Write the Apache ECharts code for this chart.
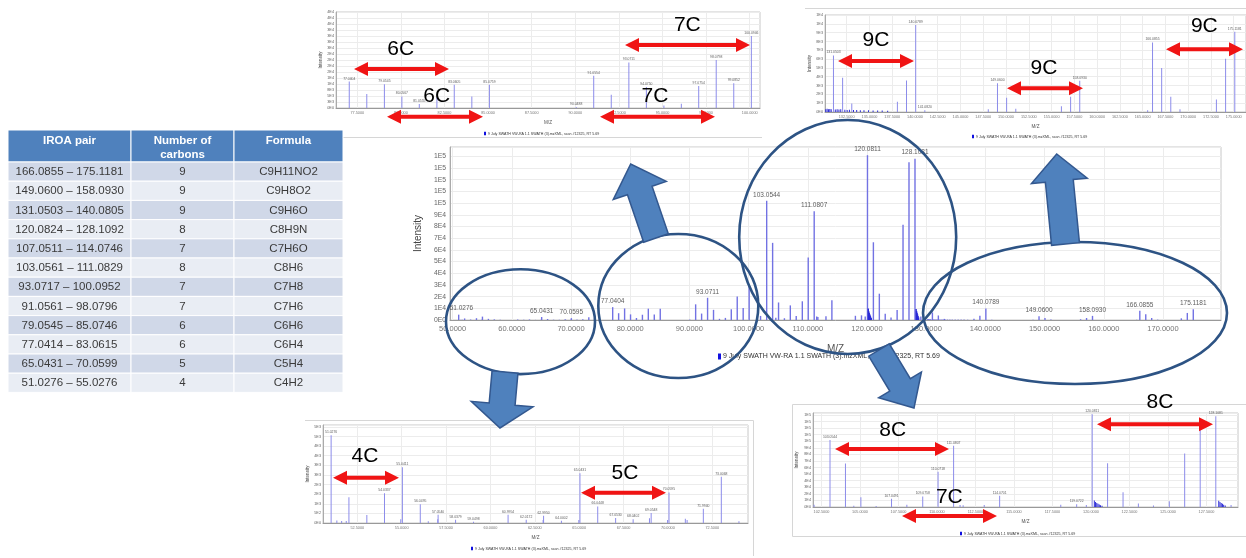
<!DOCTYPE html>
<html><head><meta charset="utf-8">
<script src="https://cdn.jsdelivr.net/npm/echarts@6/dist/echarts.min.js"></script>
<style>html,body{margin:0;padding:0;background:#fff}#c{width:1246px;height:558px}</style>
</head><body><div id="c"></div>
<script>
// ---------------- DATA ----------------
const seriesName = '9 July SWATH VW-RA 1.1 SWATH (3).mzXML, scan #12325, RT 5.69';
// peaks: [m/z, intensity]
const peaks = [
[51.0276,4570],[51.35,130],[51.62,110],[51.88,100],[52.0300,1345],[53.0390,410],[54.0337,1550],[54.9500,200],[55.0411,2900],[56.0495,980],[56.5,90],[57.0340,200],[57.0540,430],[58.0379,170],[59.0498,60],[60.9954,430],[62.0172,170],[62.9700,150],[62.9950,380],[64.0002,120],[64.9800,150],[65.0431,2590],[66.0448,860],[67.0530,260],[68.0402,200],[68.9600,250],[69.0548,520],[69.9800,150],[70.0595,1590],[70.98,220],[71.08,150],[71.9940,740],[73.0068,2410],[74.0,90],
[77.0404,11000],[78.0447,5800],[79.0545,9900],[80.0567,4800],[81.0555,1700],[82.0650,4500],[83.0605,9700],[84.0680,4800],[85.0759,9700],[90.0488,400],[91.0554,13400],[92.0620,5500],[93.0711,19000],[94.0750,8700],[95.0800,1000],[96.0800,1800],[97.0754,9200],[98.0798,20000],[99.0852,10300],[100.0946,30000],
[102.0200,3500],[103.0544,102000],[104.0578,66000],[104.6,2000],[105.0590,15000],[106.0500,1500],[107.0491,12500],[108.0450,3500],[109.0758,16000],[110.0718,53500],[111.0807,93000],[111.5,3000],[111.7,2500],[113.0700,3200],[114.0701,17000],[118.0400,3600],[119.0722,4000],[119.7,3000],[120.0811,141000],[121.0800,66500],[122.0850,22500],[123.0800,5300],[124.0600,2200],[125.0900,8600],[126.0870,81500],[127.0950,135000],[128.1081,138000],[129.1,3000],
[131.0503,6420],[132.0540,3880],[133.0600,960],[138.0700,1150],[139.0700,3580],[140.0789,9880],[141.0820,190],[148.0500,300],[149.0600,3270],[150.0630,1620],[151.0700,380],[156.0800,650],[157.0900,1730],[158.0930,3540],[165.5500,200],[166.0855,7880],[167.0890,5000],[168.0900,1730],[169.1000,300],[173.1000,1420],[174.1100,6040],[175.1181,9100]
];
// dense low-level clusters (drawn darker)
const densePeaks = [
[120.22,9800],[120.3,7500],[120.38,6200],[120.46,5000],[120.54,3800],[120.62,2800],[120.72,1800],
[128.3,9500],[128.38,7600],[128.46,6200],[128.54,4800],[128.62,3500],[128.72,2200],
[130.2,320],[130.35,360],[130.5,300],[130.65,340],[130.8,300],[131.25,280],[131.45,320],[131.65,270],[131.85,300],[132.3,260],[132.55,240],[132.8,250],[133.25,220],[133.6,230],[134.0,210],[134.4,200],[134.9,190],[135.4,180],[135.9,170],[136.4,160],[137.0,150]
];
// labelled peaks per panel (m/z)
const mainLabels = [51.0276,65.0431,70.0595,77.0404,93.0711,103.0544,111.0807,120.0811,128.1081,140.0789,149.0600,158.0930,166.0855,175.1181];
const tlLabels = [77.0404,79.0545,80.0567,81.0555,83.0605,85.0759,90.0488,91.0554,93.0711,94.0750,97.0754,98.0798,99.0852,100.0946];
const trLabels = [131.0503,140.0789,141.0820,149.0600,158.0930,166.0855,175.1181];
const blLabels = [51.0276,54.0337,55.0411,56.0495,57.0540,58.0379,59.0498,60.9954,62.0172,62.9950,64.0002,65.0431,66.0448,67.0530,68.0402,69.0548,70.0595,71.9940,73.0068];
const brLabels = [103.0544,107.0491,109.0758,110.0718,111.0807,114.0701,119.0722,120.0811,128.1081];
// x tick labels
const mainXTicks = [50,60,70,80,90,100,110,120,130,140,150,160,170];
const tlXTicks = [77.5,80,82.5,85,87.5,90,92.5,95,97.5,100];
const trXTicks = [132.5,135,137.5,140,142.5,145,147.5,150,152.5,155,157.5,160,162.5,165,167.5,170,172.5,175];
const blXTicks = [52.5,55,57.5,60,62.5,65,67.5,70,72.5];
const brXTicks = [102.5,105,107.5,110,112.5,115,117.5,120,122.5,125,127.5];
// table
const tableHeader = ['IROA pair','Number of\ncarbons','Formula'];
const iroaPairs = ['166.0855 – 175.1181','149.0600 – 158.0930','131.0503 – 140.0805','120.0824 – 128.1092','107.0511 – 114.0746','103.0561 – 111.0829','93.0717 – 100.0952','91.0561 – 98.0796','79.0545 – 85.0746','77.0414 – 83.0615','65.0431 – 70.0599','51.0276 – 55.0276'];
const carbonCounts = [9,9,9,8,7,8,7,7,6,6,5,4];
const formulas = ['C9H11NO2','C9H8O2','C9H6O','C8H9N','C7H6O','C8H6','C7H8','C7H6','C6H6','C6H4','C5H4','C4H2'];
// carbon-count annotation texts
const carbonTags = ['6C','6C','7C','7C','9C','9C','9C','4C','5C','8C','7C','8C'];

// ---------------- LAYOUT ----------------
const FONT = 'Liberation Sans';
const panels = [
 {left:450,top:147,width:771,height:173,xMin:49.56,xMax:179.8,xTicks:mainXTicks,yMax:148000,yStep:10000,showMaxY:false,labels:mainLabels,
  tickFs:7.5,yFs:6.8,peakFs:6.5,nameFs:10,xGap:24,yGap:21,xMargin:5,yMargin:4,bw:1.4,color:'#7272e3',lblDist:2,
  lg:{left:718,top:353,iw:3,ih:6,fs:7}},
 {left:336,top:12,width:424,height:96,xMin:76.28,xMax:100.59,xTicks:tlXTicks,yMax:40000,yStep:2500,showMaxY:true,labels:tlLabels,
  tickFs:3.8,yFs:3.8,peakFs:3.4,nameFs:4.6,xGap:12,yGap:13,xMargin:2.5,yMargin:2,bw:1,color:'#8c8cea',lblDist:1,
  lg:{left:484,top:131.5,iw:2,ih:3.5,fs:3.6}},
 {left:825,top:15,width:435,height:97,xMin:130.12,xMax:176.35,xTicks:trXTicks,yMax:11000,yStep:1000,showMaxY:true,labels:trLabels,
  tickFs:3.8,yFs:3.8,peakFs:3.4,nameFs:4.6,xGap:12,yGap:12,xMargin:2.5,yMargin:2,bw:1,color:'#8c8cea',lblDist:1,
  lg:{left:972,top:134.5,iw:2,ih:3.5,fs:3.6}},
 {left:323,top:425,width:425,height:98,xMin:50.57,xMax:74.51,xTicks:blXTicks,yMax:5100,yStep:500,showMaxY:false,labels:blLabels,
  tickFs:3.8,yFs:3.8,peakFs:3.4,nameFs:4.6,xGap:12,yGap:13,xMargin:2.5,yMargin:2,bw:1,color:'#8c8cea',lblDist:1,
  lg:{left:471,top:546.5,iw:2,ih:3.5,fs:3.6}},
 {left:813,top:413,width:425,height:94,xMin:101.95,xMax:129.55,xTicks:brXTicks,yMax:143000,yStep:10000,showMaxY:false,labels:brLabels,
  tickFs:3.8,yFs:3.8,peakFs:3.4,nameFs:4.6,xGap:12,yGap:14,xMargin:2.5,yMargin:2,bw:1,color:'#8c8cea',lblDist:1,
  lg:{left:960,top:531.5,iw:2,ih:3.5,fs:3.6}}
];
const tableCols = [{x:8,w:123},{x:131,w:103},{x:234,w:109}];
const tableTop = 130, headerH = 32, rowH = 19.2;
const ellipses = [[520.5,321.7,74.5,52.4],[678.3,306,80,72],[847.7,237,108.5,117],[1075,313,152,71]];
const blockArrows = [[656,238,630.7,164,13,28,28],[1065.5,244,1056.7,154,14,28,27],[505,372,500,428,13,31,24],[879,350,914,408,12,25,27]];
const redArrowLayout = [
 [354,449,69,400.7,49],[387,483,116.7,436.7,96.7],[625,750,45,687.3,25],[600,715,116.7,655,96.7],
 [838,914,61,876,40],[1007,1083,88.3,1044,68.3],[1166,1243,49.3,1204.3,26.7],
 [333,399,477.7,365,456.7],[581,666,492.7,625,473.3],
 [835,949,449,892.7,430],[902,997,516,949.3,497.7],[1097,1213,424.3,1160,402]
];

// ---------------- BUILD ----------------
function eFmt(v){
  if (v === 0) return '0E0';
  let e = Math.floor(Math.log10(v) + 1e-9);
  let m = Math.round(v / Math.pow(10, e));
  if (m >= 10) { m = 1; e++; }
  return m + 'E' + e;
}
const intensityOf = mz => { const p = peaks.find(d => Math.abs(d[0] - mz) < 1e-6); return p ? p[1] : 0; };

const grids = [], xAxes = [], yAxes = [], series = [], legends = [];
panels.forEach((p, i) => {
  grids.push({left:p.left, top:p.top, width:p.width, height:p.height, show:true, borderColor:'#c8c8c8', borderWidth:1, containLabel:false});
  xAxes.push({gridIndex:i, type:'value', min:p.xMin, max:p.xMax,
    axisLabel:{customValues:p.xTicks, formatter:v => v.toFixed(4), fontSize:p.tickFs, color:'#777', margin:p.xMargin, fontFamily:FONT},
    axisTick:{show:false, customValues:p.xTicks},
    axisLine:{show:true, lineStyle:{color:'#999'}},
    splitLine:{show:true, lineStyle:{color:'#ececec'}},
    name:'M/Z', nameLocation:'middle', nameGap:p.xGap, nameTextStyle:{fontSize:p.nameFs, color:'#555', fontFamily:FONT}});
  yAxes.push({gridIndex:i, type:'value', min:0, max:p.yMax, interval:p.yStep,
    axisLabel:{formatter:eFmt, fontSize:p.yFs, color:'#666', margin:p.yMargin, showMaxLabel:p.showMaxY, fontFamily:FONT},
    axisTick:{show:false}, axisLine:{show:true, lineStyle:{color:'#aaa'}},
    splitLine:{show:true, lineStyle:{color:'#ececec'}},
    name:'Intensity', nameLocation:'middle', nameGap:p.yGap, nameTextStyle:{fontSize:p.nameFs, color:'#444', fontFamily:FONT}});
  series.push({type:'bar', name:seriesName, xAxisIndex:i, yAxisIndex:i, barWidth:p.bw, silent:true, clip:true,
    itemStyle:{color:p.color},
    data:[...peaks.map(d => ({value:d})), ...densePeaks.map(d => ({value:d, itemStyle:{color:'#2a2ad6'}}))]});
  series.push({type:'scatter', name:'labels'+i, xAxisIndex:i, yAxisIndex:i, symbolSize:1, silent:true, z:5,
    itemStyle:{color:'transparent'},
    data:p.labels.map((mz, k) => {
      const item = {value:[mz, intensityOf(mz)]};
      if (i === 0 && k === 0) item.label = {align:'left', offset:[-9, 0]};
      return item;
    }),
    label:{show:true, position:'top', distance:p.lblDist, fontSize:p.peakFs, color:'#333', fontFamily:FONT,
      formatter:q => q.value[0].toFixed(4)}});
  legends.push({data:[seriesName], left:p.lg.left, top:p.lg.top, itemWidth:p.lg.iw, itemHeight:p.lg.ih, itemGap:0, padding:0,
    icon:'rect', selectedMode:false, itemStyle:{color:'#1010e0'},
    textStyle:{fontSize:p.lg.fs, color:'#333', fontFamily:FONT, padding:[0,0,0,-3]}});
});

const elements = [];
// inset frames
const frameStyle = {stroke:'#d6d6d6', lineWidth:1};
elements.push({type:'line', z:1, shape:{x1:343, y1:137.5, x2:762, y2:137.5}, style:frameStyle});
elements.push({type:'line', z:1, shape:{x1:805, y1:8.5, x2:1246, y2:8.5}, style:frameStyle});
elements.push({type:'line', z:1, shape:{x1:305, y1:420.5, x2:753.5, y2:420.5}, style:frameStyle});
elements.push({type:'line', z:1, shape:{x1:753.5, y1:420.5, x2:753.5, y2:556}, style:frameStyle});
elements.push({type:'rect', z:1, shape:{x:792.5, y:404.5, width:470, height:132}, style:{fill:'none', stroke:'#d6d6d6', lineWidth:1}});

// table
tableCols.forEach((c, j) => {
  elements.push({type:'rect', z:10, shape:{x:c.x, y:tableTop, width:c.w, height:headerH}, style:{fill:'#4f81bd', stroke:'#ffffff', lineWidth:1}});
  elements.push({type:'text', z:11, style:{text:tableHeader[j], x:c.x + c.w/2, y:tableTop + 3.5, align:'center', verticalAlign:'top',
    fill:'#ffffff', fontSize:11.5, fontWeight:'bold', fontFamily:FONT, lineHeight:14}});
});
iroaPairs.forEach((pair, r) => {
  const vals = [pair, String(carbonCounts[r]), formulas[r]];
  const y = tableTop + headerH + r * rowH;
  tableCols.forEach((c, j) => {
    elements.push({type:'rect', z:10, shape:{x:c.x, y:y, width:c.w, height:rowH}, style:{fill: r % 2 === 0 ? '#d0d8e8' : '#e9edf4', stroke:'#ffffff', lineWidth:1}});
    elements.push({type:'text', z:11, style:{text:vals[j], x:c.x + c.w/2, y:y + rowH/2 + 0.5, align:'center', verticalAlign:'middle',
      fill:'#3a3a3a', fontSize:11.5, fontFamily:FONT}});
  });
});

// ellipses
ellipses.forEach(e => elements.push({type:'ellipse', z:20, silent:true, shape:{cx:e[0], cy:e[1], rx:e[2], ry:e[3]},
  style:{fill:null, stroke:'#2d5384', lineWidth:2.6}}));

// block arrows
function blockArrow(sx, sy, tx, ty, sw, hw, hl){
  const dx = tx - sx, dy = ty - sy, L = Math.hypot(dx, dy), ux = dx/L, uy = dy/L, nx = -uy, ny = ux;
  const bx = tx - ux*hl, by = ty - uy*hl;
  return [[sx+nx*sw, sy+ny*sw],[bx+nx*sw, by+ny*sw],[bx+nx*hw, by+ny*hw],[tx, ty],[bx-nx*hw, by-ny*hw],[bx-nx*sw, by-ny*sw],[sx-nx*sw, sy-ny*sw]];
}
blockArrows.forEach(a => elements.push({type:'polygon', z:21, silent:true, shape:{points:blockArrow(...a)},
  style:{fill:'#4f81bd', stroke:'#33588f', lineWidth:1.5}}));

// red double arrows and carbon tags
function doubleArrow(x1, x2, y){
  const L = 14, H = 7, t = 2;
  return [[x1,y],[x1+L,y-H],[x1+L,y-t],[x2-L,y-t],[x2-L,y-H],[x2,y],[x2-L,y+H],[x2-L,y+t],[x1+L,y+t],[x1+L,y+H]];
}
redArrowLayout.forEach((a, k) => {
  elements.push({type:'polygon', z:22, silent:true, shape:{points:doubleArrow(a[0], a[1], a[2])}, style:{fill:'#f01414'}});
  elements.push({type:'text', z:23, silent:true, style:{text:carbonTags[k], x:a[3], y:a[4], align:'center', verticalAlign:'middle',
    fill:'#000000', fontSize:21, fontFamily:FONT}});
});

const option = {
  animation:false,
  backgroundColor:'#ffffff',
  textStyle:{fontFamily:FONT},
  grid:grids, xAxis:xAxes, yAxis:yAxes, series:series, legend:legends,
  graphic:{elements:elements}
};
const chart = echarts.init(document.getElementById('c'), null, {renderer:'canvas', width:1246, height:558});
chart.setOption(option);
</script>
</body></html>
